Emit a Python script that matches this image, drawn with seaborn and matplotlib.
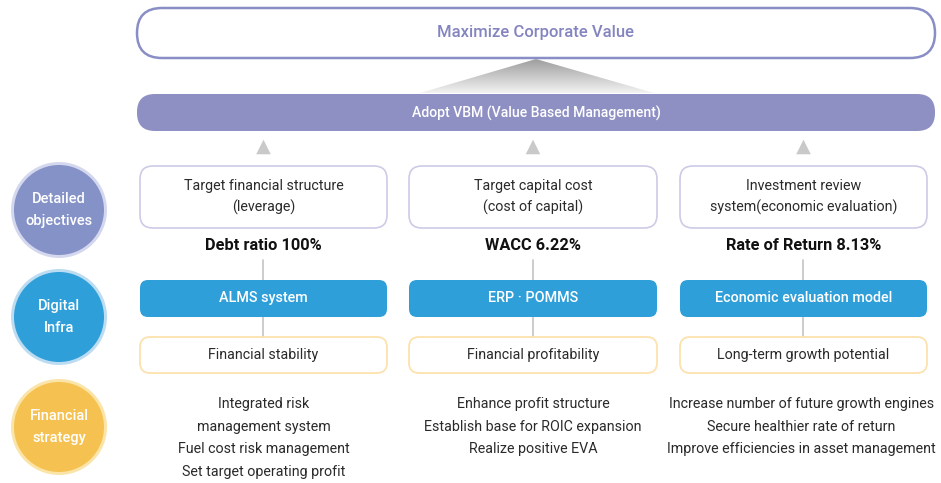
import numpy as np
import matplotlib
matplotlib.use("Agg")
import matplotlib.pyplot as plt
from matplotlib.patches import FancyBboxPatch, Circle, Polygon
import seaborn as sns
import pandas as pd

# ---- data ----
top_goal = "Maximize Corporate Value"
vbm_label = "Adopt VBM (Value Based Management)"
row_labels = ["Detailed\nobjectives", "Digital\nInfra", "Financial\nstrategy"]
objectives = ["Target financial structure\n(leverage)",
              "Target capital cost\n(cost of capital)",
              "Investment review\nsystem(economic evaluation)"]
metrics = ["Debt ratio 100%", "WACC 6.22%", "Rate of Return 8.13%"]
systems = ["ALMS system", "ERP · POMMS", "Economic evaluation model"]
goals = ["Financial stability", "Financial profitability", "Long-term growth potential"]
strategies = [["Integrated risk", "management system", "Fuel cost risk management", "Set target operating profit"],
              ["Enhance profit structure", "Establish base for ROIC expansion", "Realize positive EVA"],
              ["Increase number of future growth engines", "Secure healthier rate of return",
               "Improve efficiencies in asset management"]]

sns.set_theme(style="white")
plt.rcParams['font.family'] = ['Roboto', 'DejaVu Sans']

W, H = 941, 483
fig = plt.figure(figsize=(W / 100, H / 100), dpi=100)
ax = fig.add_axes([0, 0, 1, 1])
ax.set_xlim(0, W)
ax.set_ylim(H, 0)
ax.axis('off')

PURPLE = "#8e8fc3"
BLUE = "#2e9fd9"
YEL = "#f5c252"
TXT = "#2a2a2a"
BODY = 10.3

def rbox(x0, y0, x1, y1, r, fc, ec, lw, z=2):
    p = FancyBboxPatch((x0, y0), x1 - x0, y1 - y0,
                       boxstyle=f"round,pad=0,rounding_size={r}",
                       fc=fc, ec=ec, lw=lw, zorder=z)
    ax.add_patch(p)
    return p

# gradient triangle
tri = Polygon([(536, 59), (420, 93), (654, 93)], closed=True, fc='none', ec='none')
ax.add_patch(tri)
grad = np.linspace(0, 1, 100).reshape(-1, 1)
im = ax.imshow(grad, cmap=matplotlib.colors.LinearSegmentedColormap.from_list(
    "g", ["#9e9e9e", "#f2f2f2"]), extent=(420, 654, 93, 59), aspect='auto', zorder=1)
im.set_clip_path(tri)
ax.set_xlim(0, W)
ax.set_ylim(H, 0)

# top box
rbox(137, 8, 935, 58, 25, "white", "#8a8ec6", 1.8, z=3)
ax.text(536, 33, top_goal, ha='center', va='center', color="#8484c0",
        fontsize=12, fontweight='medium', zorder=4)

# VBM bar
rbox(137, 94, 935, 131, 18, PURPLE, "none", 0, z=3)
ax.text(536, 113, vbm_label, ha='center', va='center', color="white",
        fontsize=10.1, fontweight='medium', zorder=4)

# columns
cols = [(140, 387), (409, 657), (680, 927)]
centers = [(a + b) / 2 for a, b in cols]

# up arrows via seaborn
arrows = pd.DataFrame({"x": centers, "y": [147] * 3})
sns.scatterplot(data=arrows, x="x", y="y", marker="^", s=110, color="#c9c9c9",
                edgecolor="none", ax=ax, zorder=3, legend=False)

for i, ((x0, x1), cx) in enumerate(zip(cols, centers)):
    # connector lines
    ax.plot([cx, cx], [260, 280], color="#c4c4c4", lw=1.2, zorder=1)
    ax.plot([cx, cx], [317, 337], color="#c4c4c4", lw=1.2, zorder=1)
    # objectives box
    rbox(x0, 166, x1, 228, 13, "white", "#cdcbe6", 1.2)
    ax.text(cx, 197, objectives[i], ha='center', va='center', color=TXT,
            fontsize=BODY, fontweight='normal', linespacing=1.6, zorder=4)
    ax.text(cx, 246, metrics[i], ha='center', va='center', color="#111111",
            fontsize=11.8, fontweight='bold', zorder=4)
    # system box
    rbox(x0, 280, x1, 317, 8, BLUE, "none", 0)
    ax.text(cx, 298, systems[i], ha='center', va='center', color="white",
            fontsize=10.4, fontweight='medium', zorder=4)
    # goal box
    rbox(x0, 337, x1, 373, 10, "white", "#fde2ae", 1.3)
    ax.text(cx, 355, goals[i], ha='center', va='center', color=TXT,
            fontsize=BODY, fontweight='normal', zorder=4)
    # strategies
    for j, s in enumerate(strategies[i]):
        ax.text(cx - (2 if i == 2 else 0), 404 + j * 22.6, s, ha='center', va='center', color=TXT,
                fontsize=BODY, fontweight='normal', zorder=4)

# left circles
circ = [(210, "#8592c8", "#d4d8ee"), (317, BLUE, "#bcdcf1"), (427, YEL, "#fbe4a8")]
for (cy, fc, rc), lab in zip(circ, row_labels):
    ax.add_patch(Circle((59, cy), 48, fc=rc, ec='none', zorder=2))
    ax.add_patch(Circle((59, cy), 45, fc=fc, ec='none', zorder=3))
    ax.text(59, cy, lab, ha='center', va='center', color='white', fontsize=10.5,
            fontweight='medium', linespacing=1.75, zorder=4)

fig.savefig("out.png", dpi=100)
